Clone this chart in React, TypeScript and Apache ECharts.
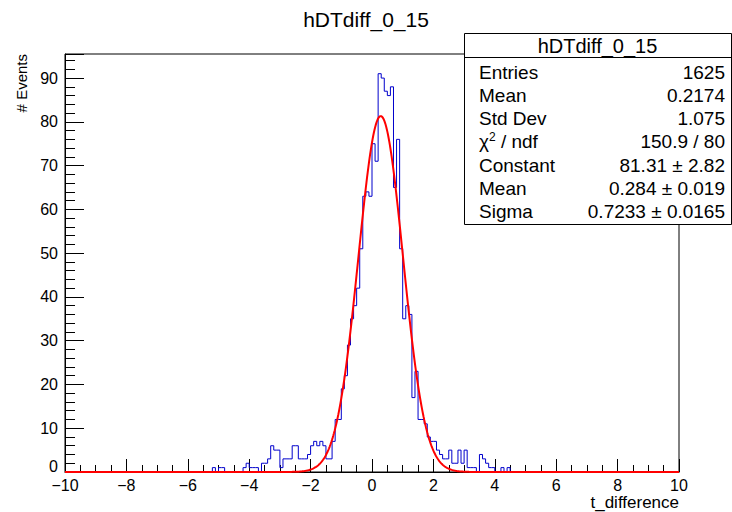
import React, { useEffect, useRef } from "react";
import * as echarts from "echarts";

// Histogram binning
const xMin = -10;
const xMax = 10;
const binWidth = 0.1;
const firstBinLow = -5.3; // low edge of the first bin listed in `counts`
// bin contents from -5.3 upward in steps of 0.1
const counts = [
  0, 1, 0, 1, 1, 0, 0, 0, 0, 0, // -5.3 .. -4.4
  0, 1, 2, 1, 1, 1, 0, 2, 2, 3, // -4.3 .. -3.4
  6, 5, 5, 1, 3, 3, 3, 6, 6, 3, // -3.3 .. -2.4
  3, 3, 4, 6, 7, 6, 7, 6,       // -2.3 .. -1.6
  3, 3, 7, 12, 12, 19, 22, 29, 35, 38, // -1.5 .. -0.6
  42, 51, 63, 64, 63, 75, 71, 91, 90, 87, // -0.5 .. 0.4
  86, 88, 65, 76, 51, 35, 38, 36, 17, 23, // 0.5 .. 1.4
  12, 12, 11, 8, 7, 7, 5, 4, 3, 3, // 1.5 .. 2.4
  5, 2, 2, 5, 2, 5, 1, 1, 1, 0, // 2.5 .. 3.4
  4, 3, 2, 1, 1, 0, 0, 1, 0, 1, 0, // 3.5 .. 4.5
];

// Fit parameters (shown in the stats box)
const fitConstant = 81.31;
const fitMean = 0.284;
const fitSigma = 0.7233;

// Axis ticks
const xTicks = [-10, -8, -6, -4, -2, 0, 2, 4, 6, 8, 10];
const yTicks = [0, 10, 20, 30, 40, 50, 60, 70, 80, 90];
const yMax = 95.5;

// Stats box
const histName = "hDTdiff_0_15";
const statLabels = ["Entries", "Mean", "Std Dev", "χ{sup|2} / ndf", "Constant", "Mean", "Sigma"];
const statValues = ["1625", "0.2174", "1.075", "150.9 / 80", "81.31 ± 2.82", "0.284 ± 0.019", "0.7233 ± 0.0165"];

const FONT = "Liberation Sans, Arial, Helvetica, sans-serif";

function buildHistogram(): number[][] {
  const nBins = Math.round((xMax - xMin) / binWidth);
  const startIdx = Math.round((firstBinLow - xMin) / binWidth);
  const pts: number[][] = [];
  for (let i = 0; i < nBins; i++) {
    const lo = +(xMin + i * binWidth).toFixed(4);
    const k = i - startIdx;
    const c = k >= 0 && k < counts.length ? counts[k] : 0;
    pts.push([lo, c]);
  }
  pts.push([xMax, pts[pts.length - 1][1]]);
  return pts;
}

function buildFit(): number[][] {
  const pts: number[][] = [];
  const n = 1000;
  for (let i = 0; i <= n; i++) {
    const x = xMin + ((xMax - xMin) * i) / n;
    const z = (x - fitMean) / fitSigma;
    pts.push([x, fitConstant * Math.exp(-0.5 * z * z)]);
  }
  return pts;
}

export default function App() {
  const ref = useRef<HTMLDivElement>(null);
  useEffect(() => {
    if (!ref.current) return;
    const chart = echarts.init(ref.current, null, { renderer: "svg" });

    const boxX = 464, boxY = 33, boxW = 267, boxH = 191, headH = 24;
    const rowH = 23.3;
    const graphics: any[] = [
      {
        type: "text",
        x: 366, y: 19,
        style: { text: histName, font: `21px ${FONT}`, fill: "#000", align: "center", verticalAlign: "middle" },
      },
      {
        type: "text",
        x: 21, y: 54, rotation: Math.PI / 2,
        style: { text: "# Events", font: `15px ${FONT}`, fill: "#000", align: "right", verticalAlign: "middle" },
      },
      {
        type: "text",
        x: 679, y: 502,
        style: { text: "t_difference", font: `17px ${FONT}`, fill: "#000", align: "right", verticalAlign: "middle" },
      },
      {
        type: "rect",
        shape: { x: boxX + 0.5, y: boxY + 0.5, width: boxW, height: boxH },
        style: { fill: "#fff", stroke: "#000", lineWidth: 1 },
        z: 100,
      },
      {
        type: "line",
        shape: { x1: boxX, y1: boxY + headH + 0.5, x2: boxX + boxW, y2: boxY + headH + 0.5 },
        style: { stroke: "#000", lineWidth: 1 },
        z: 101,
      },
      {
        type: "text",
        x: boxX + boxW / 2, y: boxY + headH / 2 + 1,
        style: { text: histName, font: `20px ${FONT}`, fill: "#000", align: "center", verticalAlign: "middle" },
        z: 102,
      },
    ];
    statLabels.forEach((lab, i) => {
      const y = 72 + i * rowH;
      graphics.push({
        type: "text",
        x: 479, y,
        style: {
          text: lab, font: `19px ${FONT}`, fill: "#000", align: "left", verticalAlign: "middle",
          rich: { sup: { fontSize: 12, verticalAlign: "top", padding: [0, 0, 9, 0], fontFamily: FONT } },
        },
        z: 102,
      });
      graphics.push({
        type: "text",
        x: 725, y,
        style: { text: statValues[i], font: `19px ${FONT}`, fill: "#000", align: "right", verticalAlign: "middle" },
        z: 102,
      });
    });

    const minus = (v: number) => String(v).replace("-", "\u2212");

    chart.setOption({
      animation: false,
      grid: { left: 65, right: 53, top: 54, bottom: 40, show: true, borderColor: "#000", borderWidth: 1, backgroundColor: "transparent" },
      xAxis: {
        type: "value",
        min: xMin, max: xMax, interval: 2,
        axisLine: { onZero: false, lineStyle: { color: "#000", width: 1 } },
        axisTick: { inside: true, length: 13, lineStyle: { color: "#000" } },
        minorTick: { show: true, splitNumber: 4, length: 7, lineStyle: { color: "#000" } },
        splitLine: { show: false },
        axisLabel: { color: "#000", fontSize: 16, fontFamily: FONT, margin: 5, formatter: (v: number) => (xTicks.includes(v) ? minus(v) : "") },
      },
      yAxis: {
        type: "value",
        min: 0, max: yMax, interval: 10,
        axisLine: { onZero: false, lineStyle: { color: "#000", width: 1 } },
        axisTick: { inside: true, length: 19, lineStyle: { color: "#000" } },
        minorTick: { show: true, splitNumber: 5, length: 10, lineStyle: { color: "#000" } },
        splitLine: { show: false },
        axisLabel: {
          color: "#000", fontSize: 16, fontFamily: FONT, margin: 7, showMaxLabel: false,
          formatter: (v: number) => (v === 0 ? "{z|0}" : yTicks.includes(v) ? String(v) : ""),
          rich: { z: { fontSize: 16, fontFamily: FONT, color: "#000", padding: [0, 0, 12, 0] } },
        },
      },
      series: [
        {
          type: "line",
          step: "end",
          data: buildHistogram(),
          symbol: "none",
          lineStyle: { color: "#0000cc", width: 1 },
          z: 2,
        },
        {
          type: "line",
          data: buildFit(),
          symbol: "none",
          smooth: false,
          lineStyle: { color: "#ff0000", width: 2 },
          z: 3,
        },
      ],
      graphic: graphics,
    });
    return () => chart.dispose();
  }, []);
  return <div ref={ref} style={{ width: 732, height: 512, position: "absolute", left: 0, top: 0 }} />;
}
